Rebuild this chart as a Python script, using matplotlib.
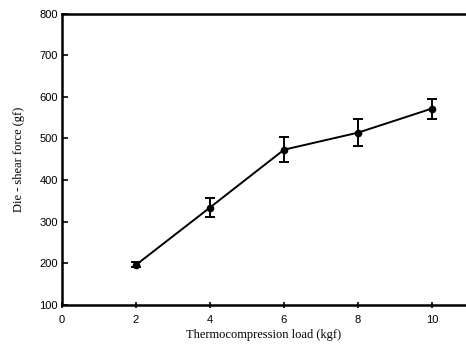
import matplotlib
matplotlib.use("Agg")
import matplotlib.pyplot as plt

# thermocompression load (kgf) vs die-shear force (gf)
load = [2, 4, 6, 8, 10]
shear = [196, 334, 473, 514, 572]
shear_err = [6, 22, 30, 33, 24]

fig = plt.figure(figsize=(4.66, 3.52), dpi=100)
ax = fig.add_axes([0.133, 0.134, 0.867, 0.827])

ax.errorbar(load, shear, yerr=shear_err, color="black", lw=1.4,
            marker="o", ms=4.5, capsize=3.5, capthick=1.4, elinewidth=1.4)

ax.set_xlim(0, 10.92)
ax.set_ylim(100, 800)
ax.set_xticks([0, 2, 4, 6, 8, 10])
ax.set_yticks(range(100, 801, 100))

ax.spines["right"].set_visible(False)
for s in ["left", "bottom", "top"]:
    ax.spines[s].set_linewidth(1.8)

ax.tick_params(axis="x", direction="inout", length=5, width=1.2, pad=5,
               labelsize=8)
ax.tick_params(axis="y", direction="in", length=4, width=1.2, pad=3,
               labelsize=8)
for lbl in ax.get_xticklabels() + ax.get_yticklabels():
    lbl.set_family("Liberation Sans")

ax.set_xlabel("Thermocompression load (kgf)", family="Liberation Serif",
              fontsize=9, labelpad=3)
ax.set_ylabel("Die - shear force (gf)", family="Liberation Serif",
              fontsize=9, labelpad=10)

fig.savefig("out.png", dpi=100)
